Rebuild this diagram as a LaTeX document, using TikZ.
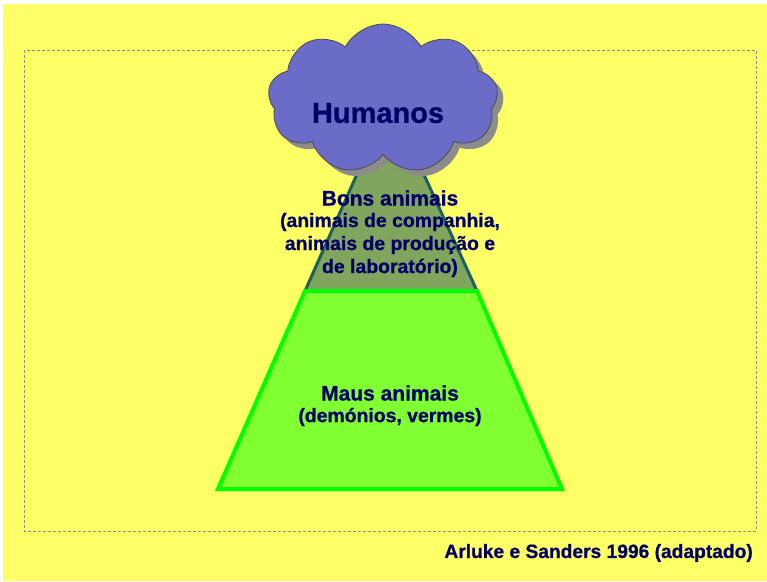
\documentclass[tikz,border=0pt]{standalone}
\usepackage{fontspec}
\setmainfont{Liberation Sans}[BoldFeatures={FakeBold=0.8}]
\usetikzlibrary{shapes.symbols, shadows}
\definecolor{fundo}{HTML}{FFFF66}
\definecolor{azul}{HTML}{000066}
\definecolor{lilas}{HTML}{6B6BC8}
\definecolor{verdeclaro}{HTML}{80FF33}
\definecolor{verde}{HTML}{00FF00}
\definecolor{oliva}{HTML}{7FA65C}
\definecolor{petroleo}{HTML}{1E5F5F}
\tikzset{texto/.style={text=azul, align=center, inner sep=0pt}}
\tikzset{nuvem/.style={cloud, cloud puffs=9, cloud puff arc=125, aspect=1.6, minimum width=230pt, minimum height=150pt, inner sep=0pt, fill=lilas, draw=black!70, line width=0.8pt, drop shadow={shadow xshift=6pt, shadow yshift=-6pt, fill=black!45, opacity=1}}}

\begin{document}
\begin{tikzpicture}[x=1pt,y=-1pt]
    \useasboundingbox (0,0) rectangle (767,581);
    %Fundo
    \fill[white] (0,0) rectangle (767,581);
    \fill[fundo] (3,4) rectangle (767,581);
    \draw[black!45, dash pattern=on 3pt off 2pt] (24,50) rectangle (756,531);
    %Piramide
    \fill[oliva] (305,291) -- (390,100) -- (477,291) -- cycle;
    \draw[petroleo, line width=3pt] (305,291) -- (390,100) -- (477,291);
    \filldraw[fill=verdeclaro, draw=verde, line width=4pt] (218,489) -- (305,291) -- (477,291) -- (562,489) -- cycle;
    %Nuvem
    \node[nuvem] (nuvem) at (383,99) {};
    \node[texto, font=\bfseries\fontsize{29}{34}\selectfont] (humanos) at (378,113) {Humanos};
    %Textos
    \node[texto, font=\bfseries\fontsize{21}{23}\selectfont] (bons) at (390,198) {Bons animais};
    \node[texto, font=\bfseries\fontsize{19.4}{23}\selectfont] (bonsdesc) at (390,245) {(animais de companhia,\\ animais de produção e\\ de laboratório)};
    \node[texto, font=\bfseries\fontsize{21}{23}\selectfont] (maus) at (390,393) {Maus animais};
    \node[texto, font=\bfseries\fontsize{19.4}{23}\selectfont] (mausdesc) at (390,417) {(demónios, vermes)};
    \node[texto, anchor=east, font=\bfseries\fontsize{19.2}{23}\selectfont] (fonte) at (753,553) {Arluke e Sanders 1996 (adaptado)};
\end{tikzpicture}
\end{document}
